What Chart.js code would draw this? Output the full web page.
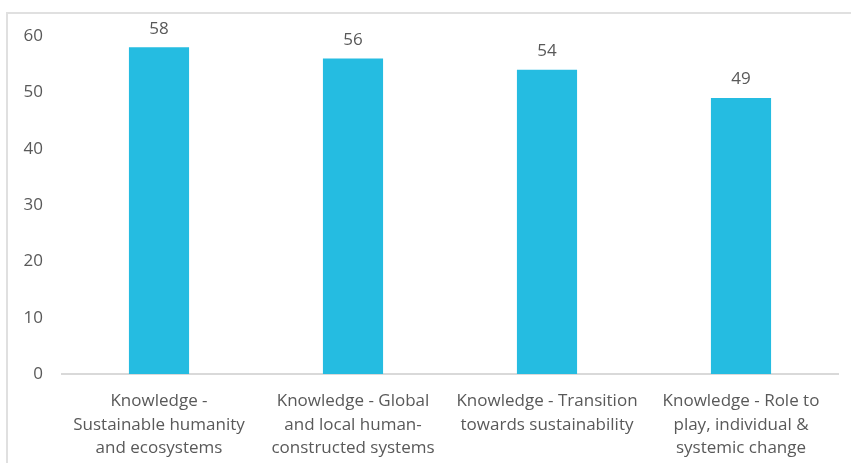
<!DOCTYPE html>
<html>
<head>
<meta charset="utf-8">
<script src="https://cdn.jsdelivr.net/npm/chart.js@4/dist/chart.umd.min.js"></script>
<style>
    html, body { margin: 0; padding: 0; background: #ffffff; }
    #wrap { position: relative; width: 851px; height: 463px; overflow: hidden; }
    #frame {
        position: absolute; left: 6px; top: 12px; width: 900px; height: 500px;
        border: 2px solid #e0e0e0; box-sizing: border-box;
    }
    #chart { position: absolute; left: 0; top: 0; }
</style>
</head>
<body>
<div id="wrap">
    <div id="frame"></div>
    <canvas id="chart" width="851" height="463"></canvas>
</div>
<script>
// Data
const categories = [
    ['Knowledge -', 'Sustainable humanity', 'and ecosystems'],
    ['Knowledge - Global', 'and local human-', 'constructed systems'],
    ['Knowledge - Transition', 'towards sustainability'],
    ['Knowledge - Role to', 'play, individual &', 'systemic change']
];
const scores = [58, 56, 54, 49];
const yTicks = [0, 10, 20, 30, 40, 50, 60];

const textColor = '#595959';
const fontFamily = "'Open Sans', 'Liberation Sans', sans-serif";

// draws the value above each bar, using the bar element positions
const valueLabels = {
    id: 'valueLabels',
    afterDatasetsDraw(chart) {
        const ctx = chart.ctx;
        const meta = chart.getDatasetMeta(0);
        ctx.save();
        ctx.fillStyle = textColor;
        ctx.font = '17px ' + fontFamily;
        ctx.textAlign = 'center';
        ctx.textBaseline = 'bottom';
        meta.data.forEach((bar, i) => {
            ctx.fillText(String(scores[i]), bar.x, bar.y - 10);
        });
        ctx.restore();
    }
};

new Chart(document.getElementById('chart'), {
    type: 'bar',
    data: {
        labels: categories,
        datasets: [{
            data: scores,
            backgroundColor: '#25bce1',
            borderWidth: 0,
            categoryPercentage: 1,
            barPercentage: 0.31
        }]
    },
    options: {
        responsive: false,
        animation: false,
        layout: { padding: { top: 36, right: 13, left: 0, bottom: 0 } },
        plugins: {
            legend: { display: false },
            tooltip: { enabled: false }
        },
        scales: {
            x: {
                grid: { display: false, drawTicks: false },
                border: { display: true, color: '#d9d9d9', width: 2 },
                ticks: {
                    color: textColor,
                    padding: 15,
                    maxRotation: 0,
                    autoSkip: false,
                    font: { family: fontFamily, size: 17, lineHeight: 1.4 }
                },
                afterFit(scale) { scale.height = 89; }
            },
            y: {
                min: 0,
                max: 60,
                grid: { display: false, drawTicks: false },
                border: { display: false },
                afterBuildTicks(scale) { scale.ticks = yTicks.map(v => ({ value: v })); },
                ticks: {
                    color: textColor,
                    padding: 19,
                    font: { family: fontFamily, size: 17 }
                },
                afterFit(scale) { scale.width = 62; }
            }
        }
    },
    plugins: [valueLabels]
});
</script>
</body>
</html>
